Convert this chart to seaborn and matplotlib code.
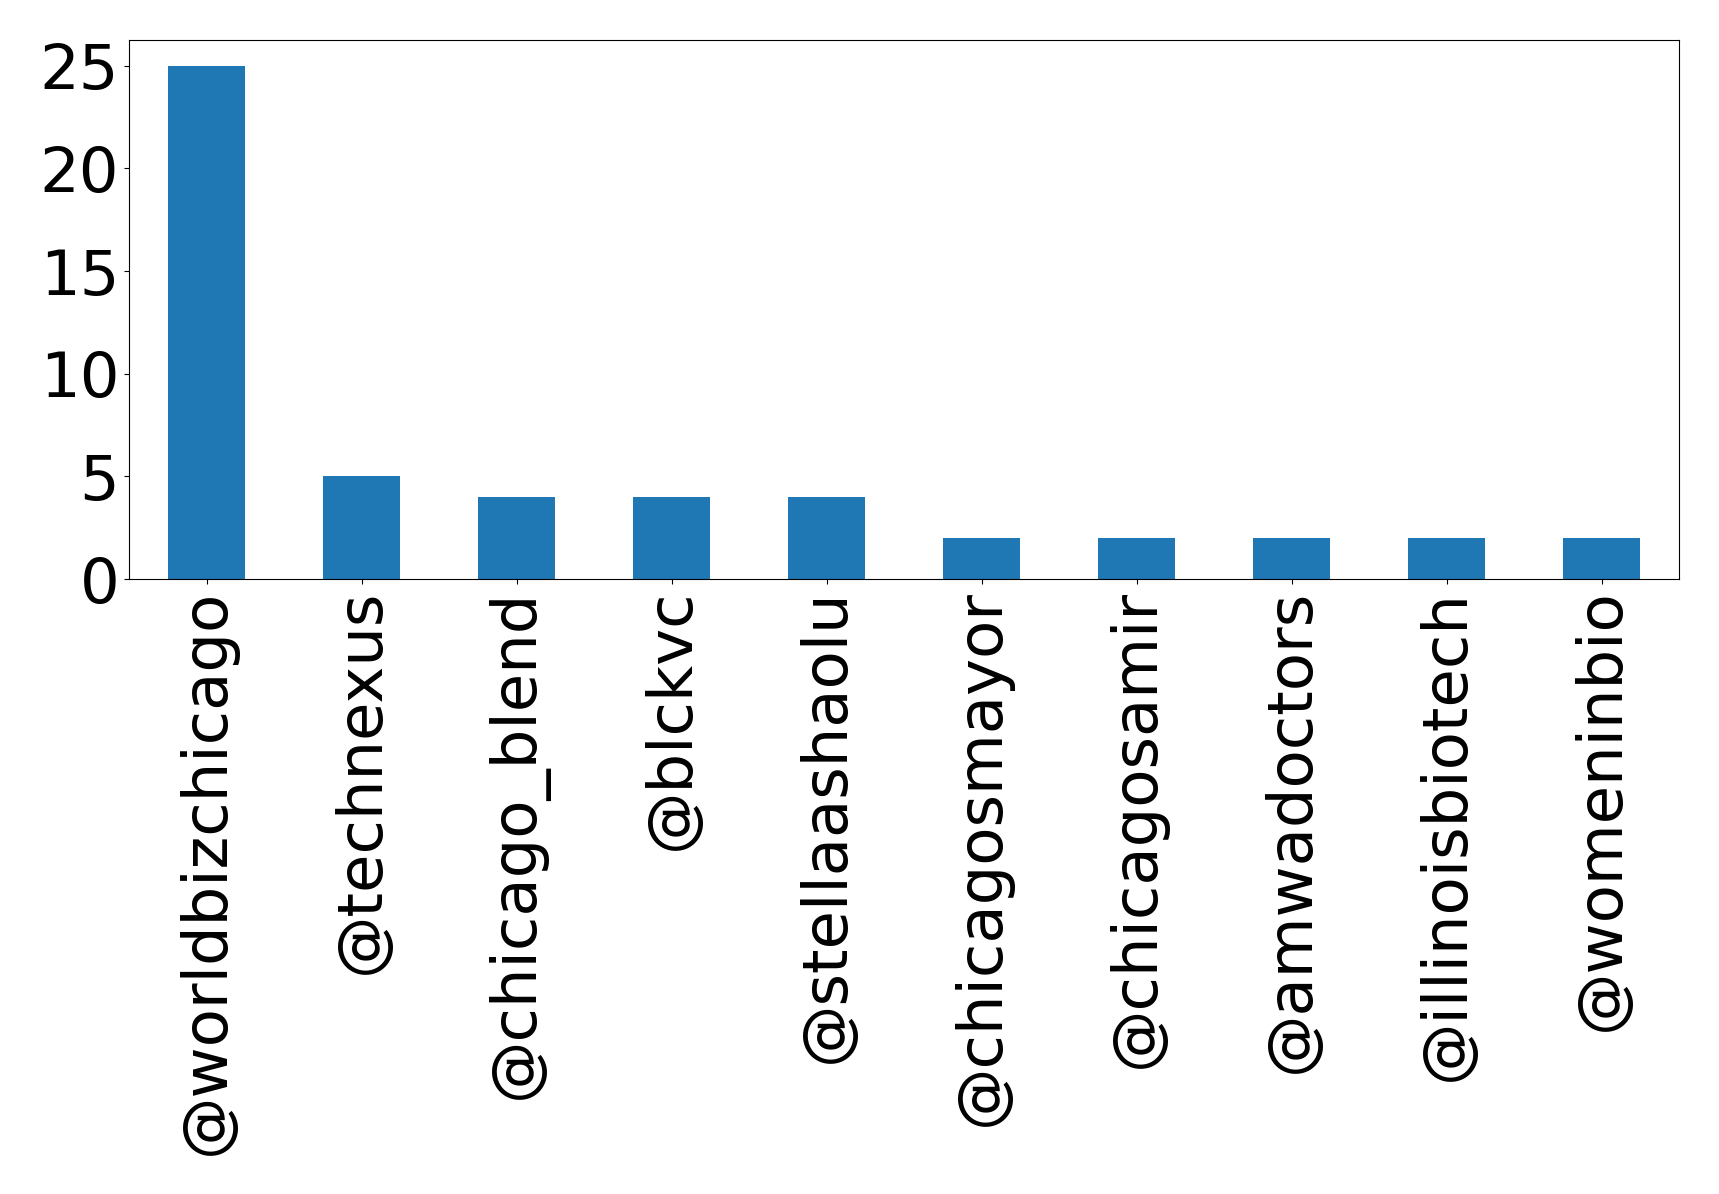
import matplotlib
matplotlib.use("Agg")
import matplotlib.pyplot as plt
import seaborn as sns
import pandas as pd

handles = ["@worldbizchicago", "@technexus", "@chicago_blend", "@blckvc", "@stellaashaolu",
           "@chicagosmayor", "@chicagosamir", "@amwadoctors", "@illinoisbiotech", "@womeninbio"]
counts = [25, 5, 4, 4, 4, 2, 2, 2, 2, 2]
yticks = [0, 5, 10, 15, 20, 25]

df = pd.DataFrame({"handle": handles, "count": counts})

fig = plt.figure(figsize=(17.19, 11.94), dpi=100)
ax = fig.add_axes([129/1719, 1 - 579/1194, (1679-129)/1719, (579-40)/1194])
sns.barplot(data=df, x="handle", y="count", color="#1f77b4", saturation=1, width=0.5, ax=ax)
ax.set_xlim(-0.5, len(handles) - 0.5)
ax.set_ylim(0, 26.25)
ax.set_yticks(yticks)
ax.set_xlabel("")
ax.set_ylabel("")
ax.tick_params(axis="both", labelsize=45)
ax.tick_params(axis="x", labelrotation=90)
for s in ax.spines.values():
    s.set_visible(True)
    s.set_color("black")
fig.savefig("out.png", dpi=100)
